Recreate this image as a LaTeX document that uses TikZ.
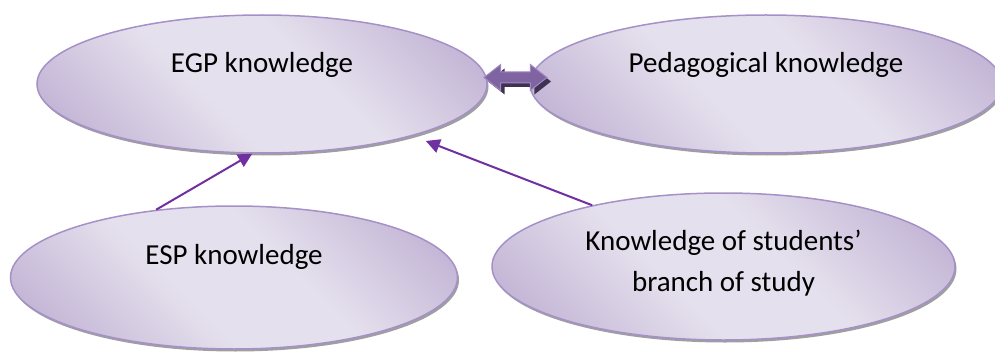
\documentclass[tikz,border=0pt]{standalone}
\usepackage{fontspec}
\setmainfont{Carlito}
\usepackage{tikz}
\usetikzlibrary{shapes.geometric, shapes.arrows, arrows.meta, positioning, calc, shadows}

\definecolor{lavlight}{RGB}{229,224,237}
\definecolor{lavdark}{RGB}{190,175,210}
\definecolor{lavedge}{RGB}{165,145,200}
\definecolor{arrowpurple}{RGB}{112,48,160}
\definecolor{blockfill}{RGB}{128,100,162}
\definecolor{blockedge}{RGB}{160,138,195}
\definecolor{blockdark}{RGB}{63,49,81}
\pgfdeclarehorizontalshading{lavband}{100bp}{color(0bp)=(lavdark); color(18bp)=(lavdark); color(42bp)=(lavlight); color(58bp)=(lavlight); color(82bp)=(lavdark); color(100bp)=(lavdark)}

\begin{document}
\begin{tikzpicture}[x=0.5pt, y=0.5pt,
  blob/.style={ellipse, draw=lavedge, line width=0.75pt, shading=lavband, shading angle=45,
    general shadow={fill=gray!75, shadow xshift=0.75pt, shadow yshift=-1.25pt}, inner sep=0pt},
  caption/.style={font=\fontsize{14.5}{20.5}\selectfont, align=center, inner sep=0pt},
  feeds/.style={draw=arrowpurple, line width=1pt, -{Triangle[length=7pt, width=7pt]}},
  swap/.style={double arrow, fill=blockfill, draw=blockedge, line width=0.5pt, inner xsep=0pt, inner ysep=2.5pt,
    minimum height=31.5pt, minimum width=12.5pt, double arrow head extend=3.75pt,
    double arrow tip angle=76, general shadow={fill=blockdark, shadow xshift=2pt, shadow yshift=-2pt}},
]
\useasboundingbox (0,0) rectangle (995,354);

% Knowledge areas
\node[blob, minimum width=225pt, minimum height=69pt] (egp) at (262,270) {};
\node[blob, minimum width=236pt, minimum height=69pt] (ped) at (766,270) {};
\node[blob, minimum width=223.5pt, minimum height=71.5pt] (esp) at (234,76.5) {};
\node[blob, minimum width=231.5pt, minimum height=73.5pt] (know) at (723.5,87.5) {};

% Texts
\node[caption] (egptext) at ([yshift=9.5pt]egp.center) {EGP knowledge};
\node[caption] (pedtext) at ([yshift=9.5pt]ped.center) {Pedagogical knowledge};
\node[caption] (esptext) at ([yshift=10.25pt]esp.center) {ESP knowledge};
\node[caption] (knowtext) at ([yshift=1.5pt]know.center) {Knowledge of students’\\branch of study};

% Links
\draw[feeds] (esp.139) -- (egp.262);
\draw[feeds, shorten >=7pt] (know.155) -- (egp.341);
\node[swap, xshift=3.5pt, yshift=3.25pt] (egpped) at ($(egp.east)!0.5!(ped.west)$) {};
\end{tikzpicture}
\end{document}
